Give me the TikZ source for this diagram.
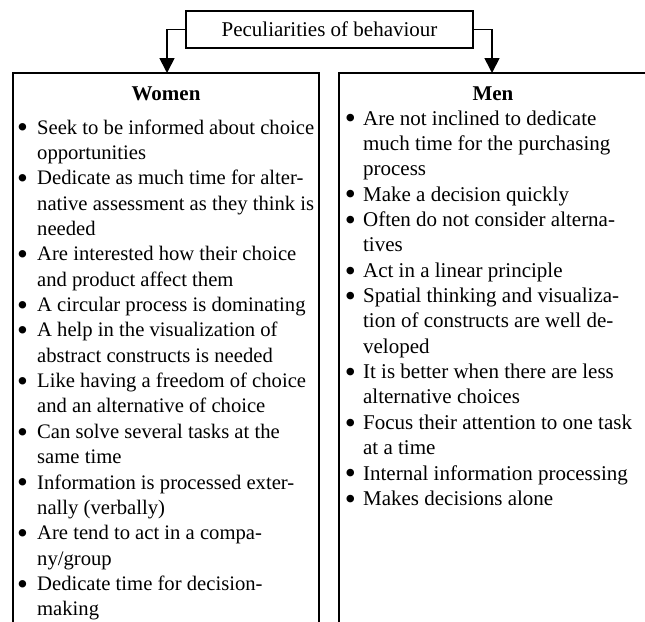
\documentclass[tikz,border=0pt]{standalone}
\usepackage{fontspec}
\setmainfont{Liberation Serif}
\usetikzlibrary{arrows.meta}
\newlength{\bulw}
\newcommand{\bul}{\makebox[\bulw][l]{\raisebox{-2.2pt}{\scalebox{1.5}{\textbullet}}}}
\begin{document}
\begin{tikzpicture}[x=0.5714pt, y=-0.5714pt,
  frame/.style={line width=1pt},
  arr/.style={line width=1pt, -{Triangle[width=8.5pt,length=8.5pt]}},
  txt/.style={inner sep=0pt, anchor=base west, font=\fontsize{12}{14.49}\selectfont},
  head/.style={inner sep=0pt, anchor=base, font=\fontsize{12}{14.49}\selectfont\bfseries}]
\useasboundingbox (0,0) rectangle (645,621);
\node [draw, line width=1pt, minimum width=164pt, minimum height=21pt, inner sep=0pt, font=\fontsize{12}{14.49}\selectfont] (T) at (329.5,29.5) {Peculiarities of behaviour};
\coordinate (W) at (167,73);
\coordinate (M) at (492,73);
\draw [frame] (13,622) -- (13,73) -- (319,73) -- (319,622);
\draw [frame] (339,622) -- (339,73) -- (647,73);
\draw [arr] (T.west) -| (W);
\draw [arr] (T.east) -| (M);
\node [head] (Wh) at (166,100) {Women};
\node [head] (Mh) at (493,100) {Men};
\node [txt, font=\fontsize{11.8}{14.49}\selectfont] (Wl) at (16.7,134) {\setlength{\bulw}{11.5pt}\begin{tabular}[t]{@{}l@{}l@{}}
\bul & Seek to be informed about choice\\
 & opportunities\\
\bul & Dedicate as much time for alter-\\
 & native assessment as they think is\\
 & needed\\
\bul & Are interested how their choice\\
 & and product affect them\\
\bul & A circular process is dominating\\
\bul & A help in the visualization of\\
 & abstract constructs is needed\\
\bul & Like having a freedom of choice\\
 & and an alternative of choice\\
\bul & Can solve several tasks at the\\
 & same time\\
\bul & Information is processed exter-\\
 & nally (verbally)\\
\bul & Are tend to act in a compa-\\
 & ny/group\\
\bul & Dedicate time for decision-\\
 & making
\end{tabular}};
\node [txt] (Ml) at (344.4,125) {\setlength{\bulw}{10.5pt}\begin{tabular}[t]{@{}l@{}l@{}}
\bul & Are not inclined to dedicate\\
 & much time for the purchasing\\
 & process\\
\bul & Make a decision quickly\\
\bul & Often do not consider alterna-\\
 & tives\\
\bul & Act in a linear principle\\
\bul & Spatial thinking and visualiza-\\
 & tion of constructs are well de-\\
 & veloped\\
\bul & It is better when there are less\\
 & alternative choices\\
\bul & Focus their attention to one task\\
 & at a time\\
\bul & Internal information processing\\
\bul & Makes decisions alone
\end{tabular}};
\end{tikzpicture}
\end{document}
